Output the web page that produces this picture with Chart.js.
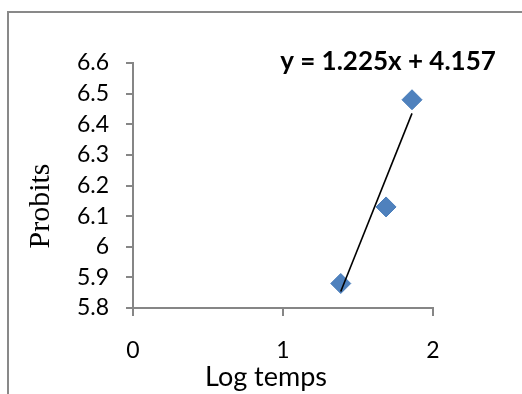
<!DOCTYPE html>
<html>
<head>
<meta charset="utf-8">
<script src="https://cdn.jsdelivr.net/npm/chart.js@4.4.1/dist/chart.umd.min.js"></script>
<style>
  html, body { margin: 0; padding: 0; background: #fff; }
  #wrap { width: 522px; height: 394px; position: relative; }
</style>
</head>
<body>
<div id="wrap"><canvas id="probitChart" width="522" height="394"></canvas></div>
<script>
// data
const logTemps = [1.385, 1.687, 1.86];
const probits = [5.88, 6.13, 6.48];
const slope = 1.225;
const intercept = 4.157;
const equationText = "y = 1.225x + 4.157";
const xTitle = "Log temps";
const yTitle = "Probits";
const xRange = [0, 2];
const yRange = [5.8, 6.6];

const axisGray = "#868686";

// points + trendline from fit
const points = logTemps.map((x, i) => ({ x: x, y: probits[i] }));
const xMin = Math.min(...logTemps);
const xMax = Math.max(...logTemps);
const trend = [
    { x: xMin, y: slope * xMin + intercept },
    { x: xMax, y: slope * xMax + intercept },
];

// outer frame and the axis titles / equation
const decorPlugin = {
    id: "decor",
    beforeDraw(chart) {
        const ctx = chart.ctx;
        ctx.save();
        ctx.fillStyle = "#fff";
        ctx.fillRect(0, 0, chart.width, chart.height);
        ctx.strokeStyle = "#898989";
        ctx.lineWidth = 2;
        ctx.strokeRect(8, 12, 700, 600);
        ctx.restore();
    },
    afterDraw(chart) {
        const ctx = chart.ctx;
        ctx.save();
        ctx.fillStyle = "#000";
        ctx.textAlign = "center";
        ctx.textBaseline = "middle";

        ctx.font = "27px Lato";
        ctx.fillText(xTitle, 266, 377);

        ctx.translate(41, 206);
        ctx.rotate(-Math.PI / 2);
        ctx.font = "30px 'Liberation Serif'";
        ctx.fillText(yTitle, 0, 0);
        ctx.restore();

        ctx.save();
        ctx.fillStyle = "#000";
        ctx.textAlign = "center";
        ctx.textBaseline = "middle";
        ctx.font = "bold 26px Lato";
        ctx.fillText(equationText, 388, 62);
        ctx.restore();
    },
};

const ctx = document.getElementById("probitChart").getContext("2d");
const probitChart = new Chart(ctx, {
    type: "scatter",
    data: {
        datasets: [
            {
                label: "Probits",
                data: points,
                pointStyle: "rectRot",
                pointRadius: 10,
                pointHoverRadius: 10,
                backgroundColor: "#4F81BD",
                borderColor: "#4A7EBB",
                borderWidth: 1,
                order: 2,
            },
            {
                label: "Linear",
                type: "line",
                data: trend,
                borderColor: "#000",
                borderWidth: 1.6,
                pointRadius: 0,
                fill: false,
                order: 1,
            },
        ],
    },
    options: {
        responsive: false,
        animation: false,
        events: [],
        layout: {
            padding: { left: 0, top: 63, right: 89, bottom: 0 },
        },
        scales: {
            x: {
                type: "linear",
                min: xRange[0],
                max: xRange[1],
                afterFit: function (scale) {
                    scale.height = 86;
                },
                ticks: {
                    stepSize: 1,
                    color: "#000",
                    padding: 21,
                    font: { family: "Lato", size: 23 },
                },
                grid: {
                    drawOnChartArea: false,
                    drawTicks: true,
                    tickLength: 8,
                    color: axisGray,
                    lineWidth: 2,
                },
                border: { color: axisGray, width: 2 },
            },
            y: {
                min: yRange[0],
                max: yRange[1],
                afterFit: function (scale) {
                    scale.width = 133;
                },
                ticks: {
                    stepSize: 0.1,
                    color: "#000",
                    padding: 17,
                    font: { family: "Lato", size: 23 },
                    callback: function (v) {
                        return String(Number(v.toFixed(1)));
                    },
                },
                grid: {
                    drawOnChartArea: false,
                    drawTicks: true,
                    tickLength: 7,
                    color: axisGray,
                    lineWidth: 2,
                },
                border: { color: axisGray, width: 2 },
            },
        },
        plugins: {
            legend: { display: false },
            tooltip: { enabled: false },
        },
    },
    plugins: [decorPlugin],
});
</script>
</body>
</html>
